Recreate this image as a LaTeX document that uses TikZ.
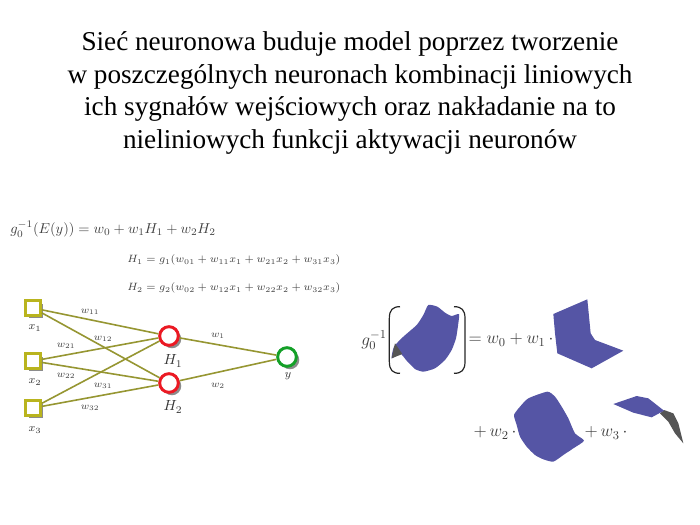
\documentclass[tikz,border=0pt]{standalone}
\usepackage{fix-cm}
\usepackage{fontspec}
\setmainfont{Liberation Serif}
\usepackage{amsmath}
\usetikzlibrary{shadows}
\definecolor{olive}{RGB}{150,150,50}
\definecolor{inpyellow}{RGB}{185,180,30}
\definecolor{hidred}{RGB}{235,25,35}
\definecolor{outgreen}{RGB}{20,160,40}
\definecolor{surfblue}{RGB}{85,85,165}
\definecolor{surfdark}{RGB}{85,85,85}
\definecolor{mathgray}{RGB}{60,60,60}
\tikzset{
  nshadow/.style={general shadow={shadow xshift=2.2pt, shadow yshift=-2.2pt, fill=black!45}},
  inp/.style={draw=inpyellow, fill=white, line width=2pt, minimum size=11pt, inner sep=0pt, nshadow},
  hid/.style={circle, draw=hidred, fill=white, line width=2.2pt, minimum size=14pt, inner sep=0pt, nshadow},
  outp/.style={circle, draw=outgreen, fill=white, line width=2.2pt, minimum size=14pt, inner sep=0pt, nshadow},
  conn/.style={draw=olive, line width=1.2pt},
  wlab/.style={text=black!75, font=\fontsize{7.5}{9}\selectfont, inner sep=0pt},
  nlab/.style={text=black!80, font=\fontsize{8.5}{10}\selectfont, inner sep=0pt},
  eqn/.style={text=black!75, font=\fontsize{7.95}{9.5}\selectfont, anchor=west, inner sep=0pt},
  bigeqn/.style={text=mathgray, font=\fontsize{13}{15}\selectfont, inner sep=0pt},
  surf/.style={fill=surfblue},
  surfd/.style={fill=surfdark},
  brack/.style={draw=black!85, line width=0.9pt}
}

\begin{document}
\begin{tikzpicture}[x=0.75pt,y=-0.75pt]
\useasboundingbox (0,0) rectangle (700,525);

%---------------------------------------
% Title
%---------------------------------------
\node[align=center, font=\fontsize{20.4}{24.6}\selectfont, inner sep=0pt] (title) at (350,93)
  {Sieć neuronowa buduje model poprzez tworzenie\\
   w poszczególnych neuronach kombinacji liniowych\\
   ich sygnałów wejściowych oraz nakładanie na to\\
   nieliniowych funkcji aktywacji neuronów};

%---------------------------------------
% Equations
%---------------------------------------
\node[eqn, font=\fontsize{10.8}{13}\selectfont] (eqE) at (10,229) {$g_0^{-1}(E(y)) = w_0 + w_1 H_1 + w_2 H_2$};
\node[eqn] (eqH1) at (127,260) {$H_1 = g_1(w_{01} + w_{11}x_1 + w_{21}x_2 + w_{31}x_3)$};
\node[eqn] (eqH2) at (127,288) {$H_2 = g_2(w_{02} + w_{12}x_1 + w_{22}x_2 + w_{32}x_3)$};

%---------------------------------------
% Network
%---------------------------------------
\node[inp] (x1) at (33,308) {};
\node[inp] (x2) at (33,361) {};
\node[inp] (x3) at (33,408) {};
\node[hid] (H1) at (169,336) {};
\node[hid] (H2) at (169,383) {};
\node[outp] (y) at (287,357) {};

\foreach \a in {x1,x2,x3}
  \foreach \b in {H1,H2}
    \draw[conn] (\a) -- (\b);
\foreach \b in {H1,H2}
  \draw[conn] (\b) -- (y);

% Weights
\node[wlab] (w11) at (90,312) {$w_{11}$};
\node[wlab] (w12) at (103,339) {$w_{12}$};
\node[wlab] (w21) at (66,346) {$w_{21}$};
\node[wlab] (w22) at (66,376) {$w_{22}$};
\node[wlab] (w31) at (103,386) {$w_{31}$};
\node[wlab] (w32) at (90,408) {$w_{32}$};
\node[wlab] (w1) at (218,336) {$w_1$};
\node[wlab] (w2) at (218,386) {$w_2$};

% Node labels
\node[nlab] (lx1) at (35,328) {$x_1$};
\node[nlab] (lx2) at (35,382) {$x_2$};
\node[nlab] (lx3) at (35,430) {$x_3$};
\node[nlab, font=\fontsize{11}{13}\selectfont] (lH1) at (173,361) {$H_1$};
\node[nlab, font=\fontsize{11}{13}\selectfont] (lH2) at (173,407) {$H_2$};
\node[nlab] (ly) at (288,376) {$y$};

%---------------------------------------
% Surfaces
%---------------------------------------
\begin{scope}[shift={(350,290)},x=0.25pt,y=-0.25pt]
  \fill[surf] plot[smooth cycle, tension=0.35] coordinates {(125,205) (132,170) (160,140) (200,105)
    (220,75) (235,45) (262,50) (285,68) (305,78) (327,72) (325,100) (318,145) (305,180)
    (285,210) (255,235) (220,245) (195,237) (170,212) (150,190)};
  \fill[surfd] (135,160) -- (157,192) -- (125,205) -- cycle;
  \draw[brack] (150,50) .. controls (128,50) and (118,60) .. (118,85) -- (118,215)
    .. controls (118,240) and (128,250) .. (150,250);
  \draw[brack] (312,50) .. controls (335,50) and (345,60) .. (345,85) -- (345,215)
    .. controls (345,240) and (335,250) .. (312,250);
  \fill[surf] (610,72) -- (712,28) -- (722,130) -- (735,150) -- (820,182) -- (725,235)
    -- (622,190) -- (615,130) -- cycle;
\end{scope}

\begin{scope}[shift={(460,380)},x=0.25pt,y=-0.25pt]
  \fill[surf] plot[smooth cycle, tension=0.35] coordinates {(162,105) (180,80) (205,55) (262,35)
    (285,50) (305,80) (325,115) (345,160) (372,182) (340,205) (310,225) (280,245) (250,238)
    (225,225) (200,200) (180,170) (170,135)};
  \fill[surfd] (600,100) -- (612,90) -- (640,100) -- (655,130) -- (670,190) -- (645,160) -- (625,125) -- cycle;
  \fill[surf] (460,72) -- (530,48) -- (565,55) -- (612,92) -- (575,112) -- (520,98) -- cycle;
\end{scope}

\node[bigeqn] (g0) at (374,340) {$g_0^{-1}$};
\node[bigeqn] (rhs1) at (511,340) {$= w_0 + w_1\,\cdot$};
\node[bigeqn] (rhs2) at (495,433) {$+\, w_2\,\cdot$};
\node[bigeqn] (rhs3) at (606,433) {$+\, w_3\,\cdot$};

\end{tikzpicture}
\end{document}
